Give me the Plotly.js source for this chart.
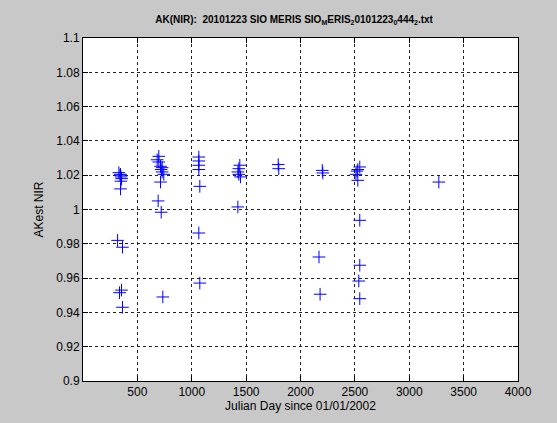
<!DOCTYPE html>
<html>
<head>
<meta charset="utf-8">
<script src="https://cdn.plot.ly/plotly-3.0.1.min.js"></script>
<style>
  html, body { margin: 0; padding: 0; background: #c8c8c8; }
  #chart { width: 557px; height: 423px; }
</style>
</head>
<body>
<div id="chart"></div>
<script>
// AKest NIR estimates by acquisition day
const julianDay = [
  330, 345, 340, 350, 355, 348, 345, 318, 363, 354, 336, 363,
  697, 682, 697, 713, 728, 719, 728, 743, 713, 691, 719, 734,
  1065, 1065, 1065, 1065, 1074, 1065, 1074,
  1442, 1433, 1424, 1433, 1448, 1424,
  1795, 1800,
  2200, 2205, 2170, 2180,
  2545, 2527, 2520, 2510, 2527, 2545, 2545, 2536, 2545,
  3272
];
const akestNir = [
  1.0215, 1.0205, 1.0200, 1.0190, 1.0180, 1.0165, 1.0120, 0.9820, 0.9780, 0.9530, 0.9515, 0.9430,
  1.0310, 1.0290, 1.0277, 1.0252, 1.0244, 1.0233, 1.0219, 1.0205, 1.0160, 1.0050, 0.9984, 0.9490,
  1.0306, 1.0283, 1.0258, 1.0233, 1.0135, 0.9863, 0.9571,
  1.0258, 1.0238, 1.0219, 1.0205, 1.0190, 1.0015,
  1.0262, 1.0238,
  1.0228, 1.0213, 0.9723, 0.9506,
  1.0248, 1.0233, 1.0224, 1.0205, 1.0170, 0.9937, 0.9675, 0.9583, 0.9480,
  1.0160
];

const xTicks = [500, 1000, 1500, 2000, 2500, 3000, 3500, 4000];
const yTicks = [0.9, 0.92, 0.94, 0.96, 0.98, 1, 1.02, 1.04, 1.06, 1.08, 1.1];
const yTickText = ['0.9', '0.92', '0.94', '0.96', '0.98', '1', '1.02', '1.04', '1.06', '1.08', '1.1'];

const font = 'Arial, "Liberation Sans", sans-serif';

const trace = {
  x: julianDay,
  y: akestNir,
  type: 'scatter',
  mode: 'markers',
  marker: {
    symbol: 'cross-thin-open',
    size: 9,
    color: '#0000ff',
    line: { color: '#0000ff', width: 1 }
  },
  hoverinfo: 'x+y'
};

const axisCommon = {
  showline: true,
  linecolor: '#000',
  linewidth: 1,
  mirror: 'ticks',
  ticks: 'inside',
  ticklen: 5,
  tickcolor: '#000',
  showgrid: true,
  gridcolor: '#222',
  griddash: '3px,3px',
  gridwidth: 1,
  zeroline: false,
  tickfont: { family: font, size: 12, color: '#000' }
};

const layout = {
  width: 557,
  height: 423,
  paper_bgcolor: '#c8c8c8',
  plot_bgcolor: '#ffffff',
  margin: { l: 82.5, r: 39.3, t: 37.7, b: 42.3 },
  showlegend: false,
  title: {
    text: '<b>AK(NIR):  20101223 SIO MERIS SIO<sub>M</sub>ERIS<sub>2</sub>0101223<sub>0</sub>444<sub>2</sub>.txt</b>',
    font: { family: font, size: 10, color: '#000' },
    x: 0.528, xanchor: 'center',
    y: 0.955, yanchor: 'middle'
  },
  xaxis: Object.assign({}, axisCommon, {
    range: [0, 4000],
    tickvals: xTicks,
    ticktext: xTicks.map(String),
    title: { text: 'Julian Day since 01/01/2002', font: { family: font, size: 12, color: '#000' }, standoff: 2 }
  }),
  yaxis: Object.assign({}, axisCommon, {
    range: [0.9, 1.1],
    tickvals: yTicks,
    ticktext: yTickText,
    title: { text: 'AKest NIR', font: { family: font, size: 12, color: '#000' }, standoff: 10 }
  })
};

Plotly.newPlot('chart', [trace], layout, { displayModeBar: false, staticPlot: true });
</script>
</body>
</html>
